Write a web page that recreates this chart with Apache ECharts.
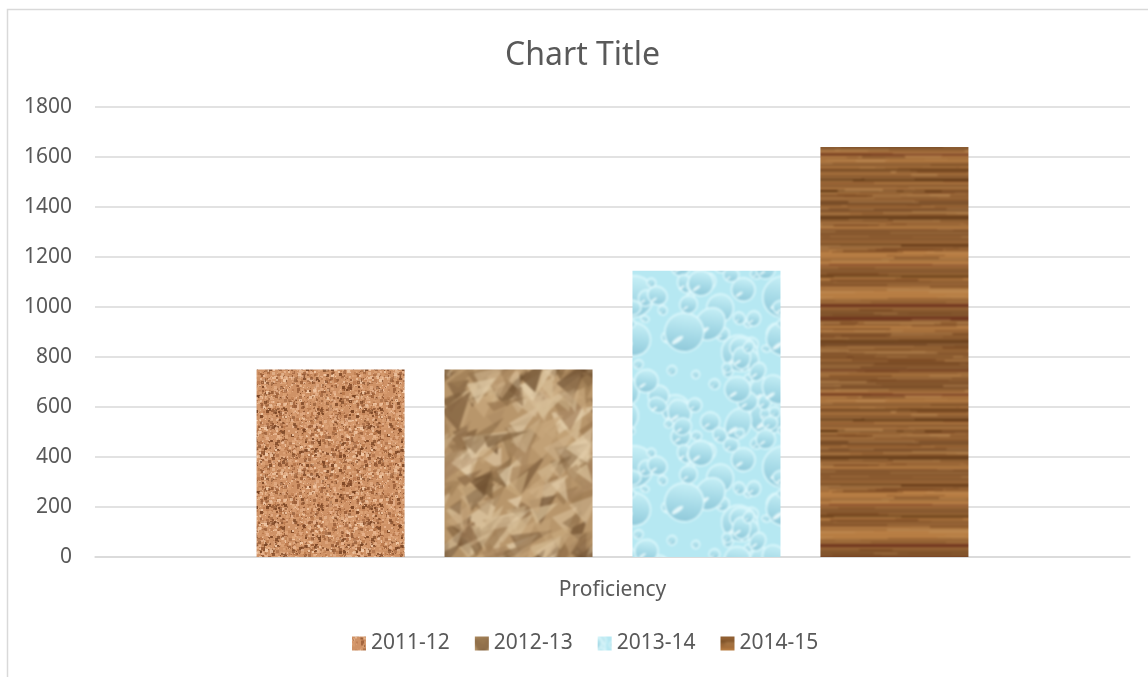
<!DOCTYPE html>
<html>
<head>
<meta charset="utf-8">
<script src="https://cdn.jsdelivr.net/npm/echarts@6/dist/echarts.min.js"></script>
<style>
  html, body { margin: 0; padding: 0; background: #fff; }
  #main { width: 1148px; height: 677px; }
</style>
</head>
<body>
<div id="main"></div>
<script>
// chart data
var categories = ['Proficiency'];
var seriesNames = ['2011-12', '2012-13', '2013-14', '2014-15'];
var values = [750, 750, 1145, 1640];
var yTicks = [0, 200, 400, 600, 800, 1000, 1200, 1400, 1600, 1800];

// small seeded generator, only used to paint the fill textures
function rng(seed) {
  return function () {
    seed |= 0; seed = seed + 0x6D2B79F5 | 0;
    var t = Math.imul(seed ^ seed >>> 15, 1 | seed);
    t = t + Math.imul(t ^ t >>> 7, 61 | t) ^ t;
    return ((t ^ t >>> 14) >>> 0) / 4294967296;
  };
}
function makeCanvas(w, h) {
  var c = document.createElement('canvas');
  c.width = w; c.height = h;
  return c;
}
// blur a tile while keeping it seamless
function softTile(src, px) {
  var w = src.width, h = src.height;
  var big = makeCanvas(w * 3, h * 3), bctx = big.getContext('2d');
  bctx.filter = 'blur(' + px + 'px)';
  var tmp = makeCanvas(w * 3, h * 3), tctx = tmp.getContext('2d');
  for (var i = 0; i < 3; i++) for (var j = 0; j < 3; j++) tctx.drawImage(src, i * w, j * h);
  bctx.drawImage(tmp, 0, 0);
  var out = makeCanvas(w, h);
  out.getContext('2d').drawImage(big, w, h, w, h, 0, 0, w, h);
  return out;
}
// draw a shape at wrapped offsets so the tile repeats cleanly
function wrapped(w, h, fn) {
  for (var dx = -1; dx <= 1; dx++) for (var dy = -1; dy <= 1; dy++) fn(dx * w, dy * h);
}

// cork
function corkTexture() {
  var c = makeCanvas(96, 96), ctx = c.getContext('2d'), r = rng(11);
  ctx.fillStyle = '#cf9266';
  ctx.fillRect(0, 0, 96, 96);
  var cols = ['#e8b48e', '#dca377', '#b8774b', '#9a5e38', '#f2c9a6', '#7a4423', '#d69a6d'];
  for (var i = 0; i < 2200; i++) {
    ctx.globalAlpha = 0.45 + r() * 0.5;
    ctx.fillStyle = cols[Math.floor(r() * cols.length)];
    var s = 1 + Math.floor(r() * 3);
    ctx.fillRect(Math.floor(r() * 96), Math.floor(r() * 96), s, s);
  }
  ctx.globalAlpha = 1;
  return softTile(c, 0.5);
}

// crumpled paper
function paperTexture() {
  var W = 150, H = 190;
  var c = makeCanvas(W, H), ctx = c.getContext('2d'), r = rng(23);
  ctx.fillStyle = '#b8966b';
  ctx.fillRect(0, 0, W, H);
  var cols = ['#80603d', '#9c7a52', '#c9a97e', '#d8bf98', '#e4cfac', '#a88660', '#6e4f30'];
  for (var i = 0; i < 200; i++) {
    var x = r() * W, y = r() * H;
    var a = -0.7 + r() * 0.6, len = 14 + r() * 34, wd = 8 + r() * 16, jx = r() * 6, jy = r() * 6;
    var col = cols[Math.floor(r() * cols.length)], al = 0.4 + r() * 0.4;
    wrapped(W, H, function (ox, oy) {
      ctx.globalAlpha = al;
      ctx.fillStyle = col;
      ctx.beginPath();
      ctx.moveTo(x + ox, y + oy);
      ctx.lineTo(x + ox + Math.cos(a) * len, y + oy + Math.sin(a) * len);
      ctx.lineTo(x + ox + Math.cos(a + 1.3) * wd + jx, y + oy + Math.sin(a + 1.3) * wd + jy);
      ctx.closePath();
      ctx.fill();
    });
  }
  ctx.globalAlpha = 1;
  return softTile(c, 1.2);
}

// water drops
function waterTexture() {
  var W = 150, H = 170;
  var c = makeCanvas(W, H), ctx = c.getContext('2d'), r = rng(37);
  ctx.fillStyle = '#b6e8f2';
  ctx.fillRect(0, 0, W, H);
  for (var i = 0; i < 75; i++) {
    var x = r() * W, y = r() * H, rad = 4 + r() * r() * 20, sq = 0.75 + r() * 0.3, rot = r() * 3;
    wrapped(W, H, function (ox, oy) {
      var cx = x + ox, cy = y + oy;
      var g = ctx.createLinearGradient(cx, cy - rad, cx - rad * 0.3, cy + rad);
      g.addColorStop(0, '#c6eff6');
      g.addColorStop(0.55, '#a6dae7');
      g.addColorStop(1, '#8fc8d9');
      ctx.fillStyle = g;
      ctx.beginPath();
      ctx.ellipse(cx, cy, rad, rad * sq, rot, 0, Math.PI * 2);
      ctx.fill();
      ctx.strokeStyle = 'rgba(225,250,253,0.95)';
      ctx.lineWidth = 1.5;
      ctx.stroke();
      ctx.fillStyle = 'rgba(245,255,255,0.8)';
      ctx.beginPath();
      ctx.ellipse(cx - rad * 0.35, cy + rad * 0.4, rad * 0.35, rad * 0.12, -0.6, 0, Math.PI * 2);
      ctx.fill();
    });
  }
  return softTile(c, 0.9);
}

// wood grain
function woodTexture() {
  var W = 200, H = 240;
  var c = makeCanvas(W, H), ctx = c.getContext('2d'), r = rng(53);
  var shade = 0;
  for (var y = 0; y < H; y++) {
    shade = shade * 0.8 + (r() - 0.5) * 0.5;
    var k = Math.max(0, Math.min(1, 0.6 + shade));
    var rr = Math.round(112 + k * 72), gg = Math.round(70 + k * 56), bb = Math.round(36 + k * 32);
    ctx.fillStyle = 'rgb(' + rr + ',' + gg + ',' + bb + ')';
    ctx.fillRect(0, y, W, 1);
  }
  // dark grain bands
  var yy = 4;
  while (yy < H - 4) {
    ctx.globalAlpha = 0.5 + r() * 0.4;
    ctx.fillStyle = r() < 0.4 ? '#6b2f1c' : '#55300f';
    ctx.fillRect(0, yy, W, 1 + Math.floor(r() * 3));
    yy += 10 + Math.floor(r() * 22);
  }
  // long soft streaks
  for (var i = 0; i < 220; i++) {
    var sx = r() * W, sy = Math.floor(r() * H), sl = 20 + r() * 80, sh = 1 + Math.floor(r() * 2);
    var col = r() < 0.5 ? '#6a3a18' : '#c4945c', al = 0.2 + r() * 0.3;
    wrapped(W, H, function (ox, oy) {
      ctx.globalAlpha = al;
      ctx.fillStyle = col;
      ctx.fillRect(sx + ox, sy + oy, sl, sh);
    });
  }
  ctx.globalAlpha = 1;
  return softTile(c, 0.9);
}

var textures = [corkTexture(), paperTexture(), waterTexture(), woodTexture()];

var chart = echarts.init(document.getElementById('main'));

var series = seriesNames.map(function (name, i) {
  return {
    name: name,
    type: 'bar',
    barWidth: 148,
    barGap: '27%',
    itemStyle: { color: { image: textures[i], repeat: 'repeat' } },
    data: [values[i]]
  };
});

chart.setOption({
  animation: false,
  textStyle: { fontFamily: 'Noto Sans', color: '#595959' },
  title: {
    text: 'Chart Title',
    left: 500,
    top: 35,
    textStyle: { fontFamily: 'Noto Sans', fontSize: 32, fontWeight: 'normal', color: '#595959' }
  },
  graphic: [{
    type: 'rect',
    shape: { x: 7.5, y: 9.5, width: 1200, height: 700 },
    style: { fill: 'none', stroke: '#d9d9d9', lineWidth: 1.5 },
    silent: true
  }],
  legend: {
    data: seriesNames,
    bottom: 18,
    left: 347,
    icon: 'rect',
    itemWidth: 14,
    itemHeight: 14,
    itemGap: 25,
    textStyle: { fontFamily: 'Noto Sans', fontSize: 21, color: '#595959' }
  },
  grid: { left: 95, right: 18, top: 107, bottom: 120, containLabel: false },
  xAxis: {
    type: 'category',
    data: categories,
    axisLine: { show: true, lineStyle: { color: '#d9d9d9', width: 1.5 } },
    axisTick: { show: false },
    axisLabel: { fontSize: 21, color: '#595959', margin: 23 }
  },
  yAxis: {
    type: 'value',
    min: yTicks[0],
    max: yTicks[yTicks.length - 1],
    interval: yTicks[1] - yTicks[0],
    axisLine: { show: false },
    axisTick: { show: false },
    axisLabel: { fontSize: 21, color: '#595959', margin: 23, formatter: function (v) { return String(v); } },
    splitLine: { lineStyle: { color: '#d9d9d9', width: 1.5 } }
  },
  series: series
});
</script>
</body>
</html>
